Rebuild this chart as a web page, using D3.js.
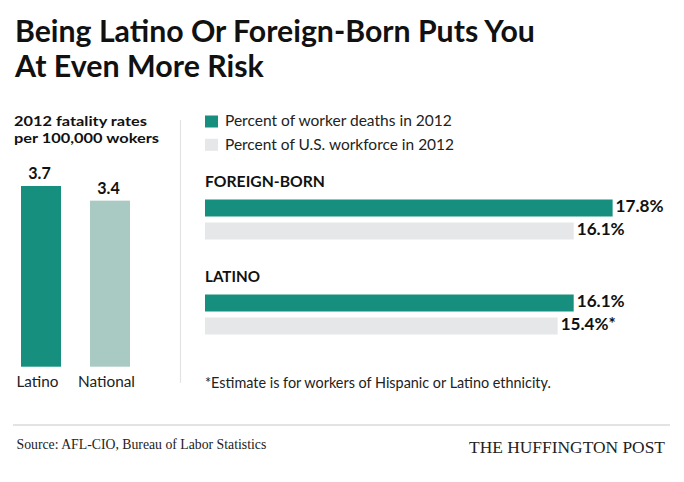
<!DOCTYPE html>
<html><head><meta charset="utf-8">
<script src="https://cdn.jsdelivr.net/npm/d3@7"></script>
<style>body{margin:0;background:#fff}svg{display:block}</style>
</head><body>
<script>
// ---- data ----
const rateCategories = ["Latino", "National"];
const rateValues = [3.7, 3.4];
const rateLabels = ["3.7", "3.4"];
const groups = ["FOREIGN-BORN", "LATINO"];
const deathShare = [17.8, 16.1];
const workforceShare = [16.1, 15.4];
const deathLabels = ["17.8%", "16.1%"];
const workforceLabels = ["16.1%", "15.4%*"];
const legendLabels = ["Percent of worker deaths in 2012", "Percent of U.S. workforce in 2012"];

const W = 684, H = 482;
const TEAL = "#168f7e", LTEAL = "#a9c9c3", GRAY = "#e6e7e8";
const SANS = "Lato, 'Open Sans', sans-serif";
const SERIF = "'Liberation Serif', 'DejaVu Serif', serif";

const svg = d3.select("body").append("svg").attr("width", W).attr("height", H);
svg.append("rect").attr("width", W).attr("height", H).attr("fill", "#fff");

function fit(t, w) {
  const fs = parseFloat(t.attr("font-size"));
  const len = t.node().getComputedTextLength();
  if (len > 0) t.attr("font-size", (fs * w / len).toFixed(2));
  return t;
}
function txt(x, y, s, size, weight, opts = {}) {
  const t = svg.append("text").attr("x", x).attr("y", y).text(s)
    .attr("font-family", opts.family || SANS).attr("font-size", size)
    .attr("font-weight", weight).attr("fill", opts.fill || "#111")
    .attr("text-anchor", opts.anchor || "start");
  if (opts.spread) {
    t.attr("textLength", opts.spread).attr("lengthAdjust", "spacingAndGlyphs");
  } else if (opts.width) fit(t, opts.width);
  return t;
}

// ---- title ----
txt(15, 42, "Being Latino Or Foreign-Born Puts You", 28, 700, {width: 520});
txt(15, 77, "At Even More Risk", 28, 700, {width: 249});

// ---- left panel ----
txt(14, 126, "2012 fatality rates", 14, 700, {spread: 133});
txt(14, 143, "per 100,000 wokers", 14, 700, {spread: 145});

const xb = d3.scaleBand().domain(rateCategories).range([21, 130]).paddingInner(0.42).paddingOuter(0);
const yr = d3.scaleLinear().domain([0, 3.7]).range([366.7, 186]);

rateCategories.forEach((c, i) => {
  svg.append("rect").attr("x", xb(c)).attr("y", yr(rateValues[i]))
    .attr("width", xb.bandwidth()).attr("height", yr(0) - yr(rateValues[i]))
    .attr("fill", i === 0 ? TEAL : LTEAL);
  txt(xb(c) + xb.bandwidth() / 2 - 1.5, yr(rateValues[i]) - 7, rateLabels[i], 16, 700, {anchor: "middle", width: 22.5});
  txt(xb(c) + xb.bandwidth() / 2 - 3.5, 387, c, 14.5, 400, {anchor: "middle", width: i === 0 ? 42 : 57, fill: "#222"});
});

// divider
svg.append("line").attr("x1", 180.5).attr("x2", 180.5).attr("y1", 120).attr("y2", 383)
  .attr("stroke", "#e3e3e3").attr("stroke-width", 1.2);

// ---- legend ----
[TEAL, GRAY].forEach((col, i) => {
  svg.append("rect").attr("x", 205).attr("y", 115.5 + i * 23.3).attr("width", 13).attr("height", 12).attr("fill", col);
  txt(225, 126 + i * 24, legendLabels[i], 14, 400, {width: i === 0 ? 227 : 229, fill: "#222"});
});

// ---- right bars ----
const xr = d3.scaleLinear().domain([0, 20]).range([205, 663]);
const yg = d3.scaleBand().domain(groups).range([187, 377]).padding(0);
const barH = 17;

groups.forEach((g, i) => {
  const base = yg(g);
  txt(205, base - (i ? 0.5 : 0), g, 14.5, 700, {width: i === 0 ? 120 : 55});
  const y1 = base + 12.5, y2 = base + 35.5;
  svg.append("rect").attr("x", xr(0)).attr("y", y1).attr("width", xr(deathShare[i]) - xr(0)).attr("height", barH).attr("fill", TEAL);
  svg.append("rect").attr("x", xr(0)).attr("y", y2).attr("width", xr(workforceShare[i]) - xr(0)).attr("height", barH).attr("fill", GRAY);
  txt(xr(deathShare[i]) + 3, y1 + 12.8, deathLabels[i], 16, 700, {width: 48});
  txt(xr(workforceShare[i]) + 3, y2 + 12.5, workforceLabels[i], 16, 700, {width: i === 0 ? 48 : 55});
});

txt(205, 388, "*Estimate is for workers of Hispanic or Latino ethnicity.", 13.5, 400, {width: 346, fill: "#222"});

// ---- footer ----
svg.append("line").attr("x1", 13).attr("x2", 670).attr("y1", 425).attr("y2", 425)
  .attr("stroke", "#e3e3e3").attr("stroke-width", 2);
txt(16.5, 449, "Source: AFL-CIO, Bureau of Labor Statistics", 13, 400, {family: SERIF, width: 250, fill: "#222"});
txt(469, 453, "THE HUFFINGTON POST", 19, 400, {family: SERIF, width: 196, fill: "#222"});
</script>
</body></html>
